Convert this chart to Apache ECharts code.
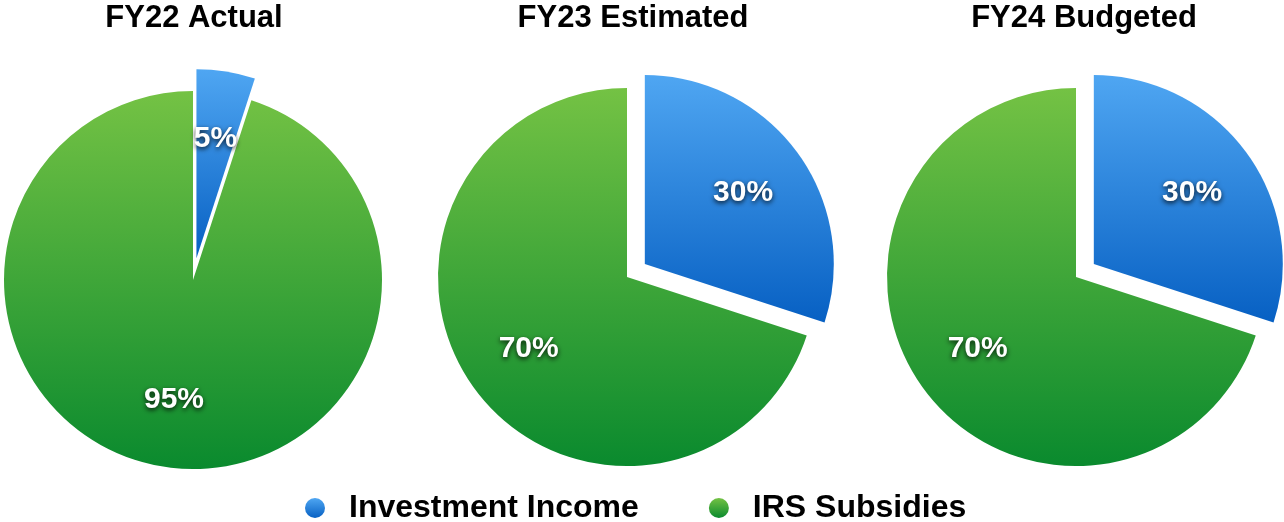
<!DOCTYPE html>
<html>
<head>
<meta charset="utf-8">
<script src="https://cdn.jsdelivr.net/npm/echarts@6/dist/echarts.min.js"></script>
<style>
  html, body { margin: 0; padding: 0; background: #fff; }
  #main { width: 1284px; height: 522px; }
</style>
</head>
<body>
<div id="main"></div>
<script>
const categories = ['Investment Income', 'IRS Subsidies'];
const pieTitles = ['FY22 Actual', 'FY23 Estimated', 'FY24 Budgeted'];
const investmentIncome = [5, 30, 30];
const irsSubsidies = [95, 70, 70];

const chartDom = document.getElementById('main');
const myChart = echarts.init(chartDom);

const font = '"Liberation Sans", Arial, sans-serif';

// vertical gradients per slice
const blueFill = new echarts.graphic.LinearGradient(0, 0, 0, 1, [
  { offset: 0, color: '#4fa6f2' },
  { offset: 1, color: '#0760c3' }
]);
const greenFill = new echarts.graphic.LinearGradient(0, 0, 0, 1, [
  { offset: 0, color: '#74c244' },
  { offset: 1, color: '#0a8a2e' }
]);

const centers = [[193, 280], [627, 277], [1076, 277]];
const titleX = [194, 633, 1084];
const offsets = [22, 22, 22];
const R = 189;

const makeData = (i, withColor) => [
  {
    name: categories[0],
    value: investmentIncome[i],
    selected: true,
    itemStyle: { color: withColor ? blueFill : 'transparent' }
  },
  {
    name: categories[1],
    value: irsSubsidies[i],
    itemStyle: { color: withColor ? greenFill : 'transparent' }
  }
];

const series = [];
// visible pies
pieTitles.forEach((t, i) => {
  series.push({
    type: 'pie',
    center: centers[i],
    radius: [0, R],
    startAngle: 90,
    selectedMode: 'single',
    selectedOffset: offsets[i],
    silent: true,
    animation: false,
    label: { show: false },
    labelLine: { show: false },
    emphasis: { scale: false },
    data: makeData(i, true)
  });
});
// transparent overlays only to push labels further out
pieTitles.forEach((t, i) => {
  series.push({
    type: 'pie',
    center: centers[i],
    radius: [48, R],
    startAngle: 90,
    selectedMode: 'single',
    selectedOffset: offsets[i],
    silent: true,
    animation: false,
    legendHoverLink: false,
    label: {
      show: true,
      position: 'inside',
      formatter: '{d}%',
      color: '#fff',
      fontFamily: font,
      fontWeight: 'bold',
      fontSize: 30,
      textShadowColor: 'rgba(0,0,0,0.85)',
      textShadowBlur: 5,
      textShadowOffsetY: 2
    },
    labelLine: { show: false },
    emphasis: { scale: false },
    data: makeData(i, false)
  });
});

const option = {
  backgroundColor: '#ffffff',
  title: pieTitles.map((t, i) => ({
    text: t,
    left: titleX[i],
    textAlign: 'center',
    top: 3,
    padding: 0,
    textStyle: {
      fontFamily: font,
      fontWeight: 'bold',
      fontSize: 31,
      color: '#000'
    }
  })),
  legend: {
    data: categories,
    left: 305,
    top: 492,
    padding: 0,
    icon: 'circle',
    itemWidth: 20,
    itemHeight: 20,
    itemGap: 70,
    textStyle: {
      fontFamily: font,
      fontWeight: 'bold',
      fontSize: 32,
      color: '#000',
      padding: [0, 0, 0, 19]
    },
    selectedMode: false
  },
  series: series
};

myChart.setOption(option);
</script>
</body>
</html>
